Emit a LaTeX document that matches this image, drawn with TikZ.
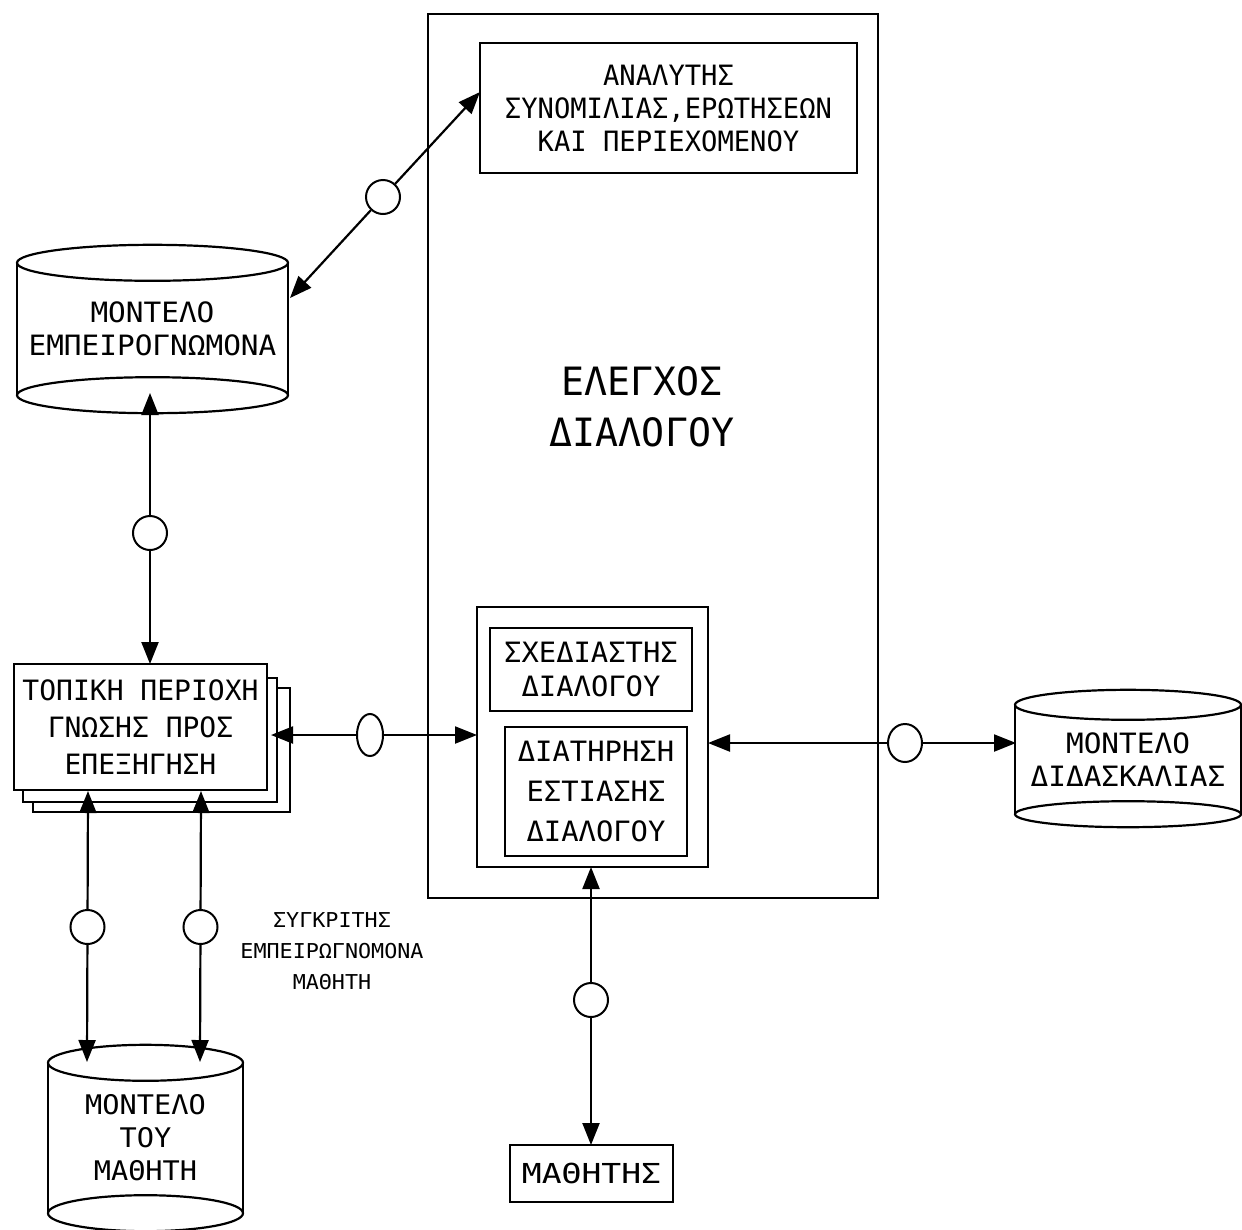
\documentclass[tikz,border=0pt]{standalone}
\usepackage{fontspec}
\setmainfont{DejaVu Sans Mono}
\usetikzlibrary{arrows.meta,shapes.geometric}
\newcommand\pf[3]{\fontspec{DejaVu Sans Mono}[FakeStretch=#3]\fontsize{#1}{#2}\selectfont}
\begin{document}
\begin{tikzpicture}[x=1pt,y=-1pt,
  box/.style={draw,line width=2.4pt,inner sep=0pt,align=center,fill=white},
  txt/.style={inner sep=0pt,align=center},
  cylline/.style={line width=2.2pt},
  half/.style={line width=2.2pt,-{Triangle[length=22pt,width=17pt]}},
  knot/.style={draw,line width=2pt,circle,minimum size=34pt,inner sep=0pt,fill=white},
  oval/.style={draw,line width=2pt,ellipse,inner sep=0pt,fill=white}]
\useasboundingbox (0,0) rectangle (1242,1229);
\fill[white] (0,0) rectangle (1242,1229);

% big control box
\node[box,fill=none,minimum width=450pt,minimum height=884pt] (ctrl) at (653,456) {};
\node[txt,font=\pf{39}{51}{0.98}] (ctrltxt) at (642,407) {ΕΛΕΓΧΟΣ\\ΔΙΑΛΟΓΟΥ};

% analyser
\node[box,minimum width=377pt,minimum height=130pt,font=\pf{28}{33}{0.97}] (anal) at (668.5,108)
  {ΑΝΑΛΥΤΗΣ\\ΣΥΝΟΜΙΛΙΑΣ,ΕΡΩΤΗΣΕΩΝ\\ΚΑΙ ΠΕΡΙΕΧΟΜΕΝΟΥ};

% planner container and inner boxes
\node[box,minimum width=231pt,minimum height=260pt] (plan) at (592.5,737) {};
\node[box,minimum width=202pt,minimum height=83pt,font=\pf{28}{34}{1.03}] (sxed) at (591,669.5)
  {ΣΧΕΔΙΑΣΤΗΣ\\ΔΙΑΛΟΓΟΥ};
\node[box,minimum width=182pt,minimum height=129pt,font=\pf{28}{40}{1.03}] (diat) at (596,791.5)
  {ΔΙΑΤΗΡΗΣΗ\\ΕΣΤΙΑΣΗΣ\\ΔΙΑΛΟΓΟΥ};

% expert model cylinder
\node[txt,minimum width=271pt,minimum height=132pt,font=\pf{28}{33}{1.05}] (cylE) at (152.5,329)
  {ΜΟΝΤΕΛΟ\\ΕΜΠΕΙΡΟΓΝΩΜΟΝΑ};
\draw[cylline] (cylE.north west) -- (cylE.south west) (cylE.north east) -- (cylE.south east);
\draw[cylline] (cylE.north) ellipse [x radius=135.5pt, y radius=18pt];
\draw[cylline] (cylE.south) ellipse [x radius=135.5pt, y radius=18pt];

% teaching model cylinder
\node[txt,minimum width=226pt,minimum height=109pt,font=\pf{28}{33}{1.05}] (cylD) at (1128,759.5)
  {ΜΟΝΤΕΛΟ\\ΔΙΔΑΣΚΑΛΙΑΣ};
\draw[cylline] (cylD.north west) -- (cylD.south west) (cylD.north east) -- (cylD.south east);
\draw[cylline] (cylD.north) ellipse [x radius=113pt, y radius=15pt];
\draw[cylline] (cylD.south) ellipse [x radius=113pt, y radius=13pt];

% student model cylinder
\node[txt,minimum width=195pt,minimum height=150pt,font=\pf{27}{33}{1.06}] (cylM) at (145.5,1138)
  {ΜΟΝΤΕΛΟ\\ΤΟΥ\\ΜΑΘΗΤΗ};
\draw[cylline] (cylM.north west) -- (cylM.south west) (cylM.north east) -- (cylM.south east);
\draw[cylline] (cylM.north) ellipse [x radius=97.5pt, y radius=18pt];
\draw[cylline] (cylM.south) ellipse [x radius=97.5pt, y radius=18pt];

% stacked local-domain box
\draw[box] (33,688) rectangle (290,812);
\draw[box] (23,678) rectangle (277,802);
\node[box,minimum width=253pt,minimum height=126pt,font=\pf{28}{37}{1.0}] (topo) at (140.5,727)
  {ΤΟΠΙΚΗ ΠΕΡΙΟΧΗ\\ΓΝΩΣΗΣ ΠΡΟΣ\\ΕΠΕΞΗΓΗΣΗ};

% student box
\node[box,minimum width=163pt,minimum height=57pt,font=\pf{27.5}{33}{1.2}] (math) at (591.5,1173.5) {ΜΑΘΗΤΗΣ};

% comparator label
\node[txt,font=\pf{20.5}{31}{1.06}] (cmp) at (332,951) {ΣΥΓΚΡΙΤΗΣ\\ΕΜΠΕΙΡΩΓΝΟΜΟΝΑ\\ΜΑΘΗΤΗ};

% connector end points
\coordinate (eR) at (290,298);
\coordinate (aL) at (480,92);
\coordinate (eB) at (150,393);
\coordinate (tT) at (150,664);
\coordinate (tR) at (271,735);
\coordinate (pL) at (477,735);
\coordinate (pR) at (708,743);
\coordinate (dL) at (1016,743);
\coordinate (tB1) at (88,791);
\coordinate (mT1) at (87,1062);
\coordinate (tB2) at (201,791);
\coordinate (mT2) at (200,1062);
\coordinate (pB) at (591,867);
\coordinate (sT) at (591,1145);

% knots
\node[knot] (k1) at (383,197) {};
\node[knot] (k2) at (150,533) {};
\node[oval,minimum width=26pt,minimum height=42pt] (k3) at (370,735) {};
\node[oval,minimum width=34pt,minimum height=38pt] (k4) at (905,743) {};
\node[knot] (k5) at (87.5,927) {};
\node[knot] (k6) at (200.5,927) {};
\node[knot] (k7) at (591,1000) {};

% connectors (each double-headed connector drawn as two halves from its knot)
\draw[half] (k1) -- (eR);  \draw[half] (k1) -- (aL);
\draw[half] (k2) -- (eB);  \draw[half] (k2) -- (tT);
\draw[half] (k3) -- (tR);  \draw[half] (k3) -- (pL);
\draw[half] (k4) -- (pR);  \draw[half] (k4) -- (dL);
\draw[half] (k5) -- (tB1); \draw[half] (k5) -- (mT1);
\draw[half] (k6) -- (tB2); \draw[half] (k6) -- (mT2);
\draw[half] (k7) -- (pB);  \draw[half] (k7) -- (sT);
\end{tikzpicture}
\end{document}
